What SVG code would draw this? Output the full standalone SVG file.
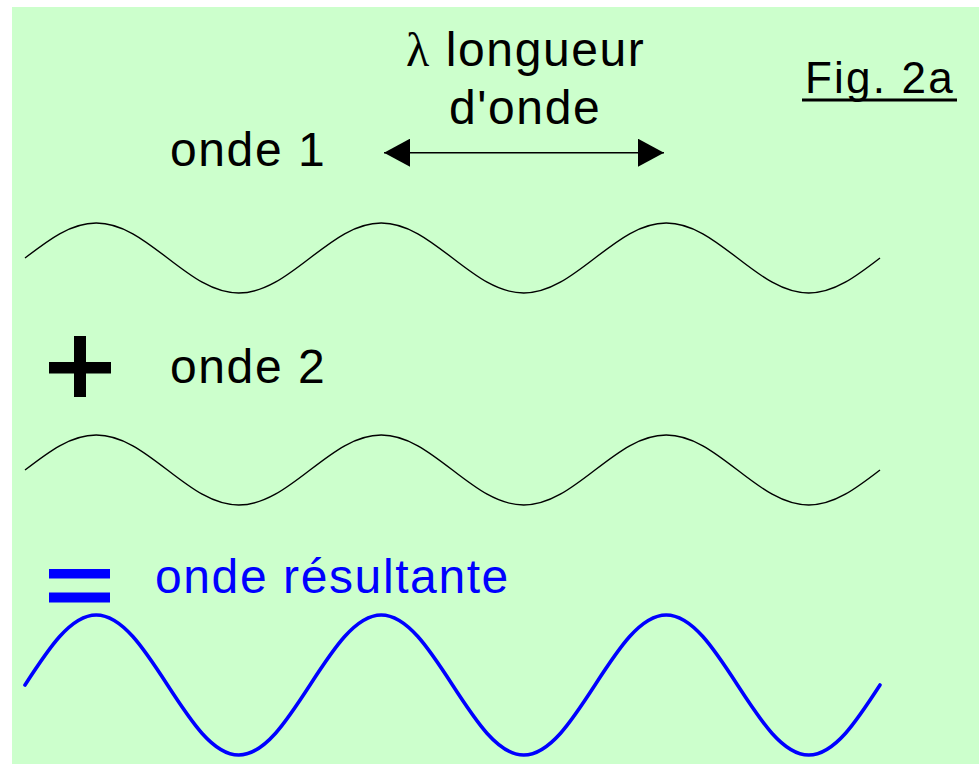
<svg xmlns="http://www.w3.org/2000/svg" width="979" height="764" viewBox="0 0 979 764">
<style>
.t{font-family:"Liberation Sans",Arial,sans-serif;font-size:48px;letter-spacing:1.6px;fill:#000}
.blue{fill:#0000ff}
.w{fill:none;stroke:#000;stroke-width:1.4}
.wb{fill:none;stroke:#0000ff;stroke-width:3.6;stroke-linecap:round}
</style>
<defs>
<marker id="ah" markerUnits="userSpaceOnUse" markerWidth="26" markerHeight="28" refX="26" refY="14" orient="auto-start-reverse" viewBox="0 0 26 28">
<path d="M0,0 L26,14 L0,28 z" fill="#000"/>
</marker>
</defs>
<rect x="0" y="0" width="979" height="764" fill="#ffffff"/>
<rect x="12" y="7" width="967" height="757" fill="#ccffcc"/>
<g id="title">
<text class="t" x="805" y="93" style="font-size:44px;letter-spacing:2.2px">Fig. 2a</text>
<line x1="802" y1="100" x2="957" y2="100" stroke="#000" stroke-width="3"/>
</g>
<g id="lambda-label">
<text class="t" x="406" y="66"><tspan style="font-family:'Liberation Serif',serif">λ</tspan> longueur</text>
<text class="t" x="449" y="124">d'onde</text>
</g>
<g id="connectors">
<line x1="384" y1="152.7" x2="664" y2="152.7" stroke="#000" stroke-width="1.6" marker-start="url(#ah)" marker-end="url(#ah)"/>
</g>
<g id="onde1">
<text class="t" x="170" y="166">onde 1</text>
<path class="w" d="M25,258 c23.24,-17.93 45.46,-35 71.25,-35 c25.79,0 48.01,17.07 71.25,35 c23.24,17.93 45.46,35 71.25,35 c25.79,0 48.01,-17.07 71.25,-35 c23.24,-17.93 45.46,-35 71.25,-35 c25.79,0 48.01,17.07 71.25,35 c23.24,17.93 45.46,35 71.25,35 c25.79,0 48.01,-17.07 71.25,-35 c23.24,-17.93 45.46,-35 71.25,-35 c25.79,0 48.01,17.07 71.25,35 c23.24,17.93 45.46,35 71.25,35 c25.79,0 48.01,-17.07 71.25,-35"/>
</g>
<g id="plus">
<rect x="49" y="362" width="62" height="11.5" fill="#000"/>
<rect x="74" y="336" width="12" height="61" fill="#000"/>
</g>
<g id="onde2">
<text class="t" x="170" y="383">onde 2</text>
<path class="w" d="M25,470 c23.24,-17.93 45.46,-35 71.25,-35 c25.79,0 48.01,17.07 71.25,35 c23.24,17.93 45.46,35 71.25,35 c25.79,0 48.01,-17.07 71.25,-35 c23.24,-17.93 45.46,-35 71.25,-35 c25.79,0 48.01,17.07 71.25,35 c23.24,17.93 45.46,35 71.25,35 c25.79,0 48.01,-17.07 71.25,-35 c23.24,-17.93 45.46,-35 71.25,-35 c25.79,0 48.01,17.07 71.25,35 c23.24,17.93 45.46,35 71.25,35 c25.79,0 48.01,-17.07 71.25,-35"/>
</g>
<g id="equals">
<rect x="49" y="569" width="61" height="9.5" fill="#0000ff"/>
<rect x="49" y="592.5" width="61" height="10" fill="#0000ff"/>
</g>
<g id="onde-resultante">
<text class="t blue" x="155" y="593">onde résultante</text>
<path class="wb" d="M25,685 c23.24,-35.86 45.46,-70 71.25,-70 c25.79,0 48.01,34.14 71.25,70 c23.24,35.86 45.46,70 71.25,70 c25.79,0 48.01,-34.14 71.25,-70 c23.24,-35.86 45.46,-70 71.25,-70 c25.79,0 48.01,34.14 71.25,70 c23.24,35.86 45.46,70 71.25,70 c25.79,0 48.01,-34.14 71.25,-70 c23.24,-35.86 45.46,-70 71.25,-70 c25.79,0 48.01,34.14 71.25,70 c23.24,35.86 45.46,70 71.25,70 c25.79,0 48.01,-34.14 71.25,-70"/>
</g>
</svg>
